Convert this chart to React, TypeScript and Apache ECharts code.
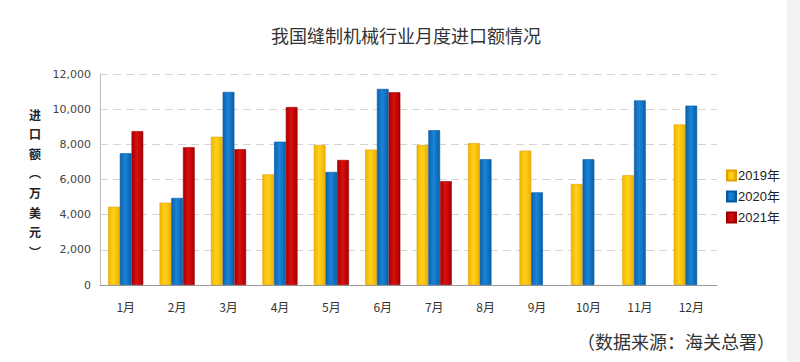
import React, { useEffect, useRef } from "react";
import * as echarts from "echarts";

const months = ["1月", "2月", "3月", "4月", "5月", "6月", "7月", "8月", "9月", "10月", "11月", "12月"];
const seriesNames = ["2019年", "2020年", "2021年"];
const v2019 = [4450, 4680, 8430, 6290, 7960, 7700, 7960, 8070, 7640, 5740, 6240, 9130];
const v2020 = [7490, 4950, 10980, 8150, 6430, 11150, 8800, 7150, 5270, 7150, 10500, 10200];
const v2021 = [8750, 7830, 7720, 10120, 7110, 10960, 5900, null, null, null, null, null];
const yTicks = { min: 0, max: 12000, interval: 2000 };
const titleText = "我国缝制机械行业月度进口额情况";
const yName = ["进", "口", "额", "︵", "万", "美", "元", "︶"];
const sourceText = "（数据来源：海关总署）";

const grad = (c0: string, c1: string, c2: string) =>
  new echarts.graphic.LinearGradient(0, 0, 1, 0, [
    { offset: 0, color: c0 },
    { offset: 0.45, color: c1 },
    { offset: 1, color: c2 },
  ]);

export default function App() {
  const ref = useRef<HTMLDivElement>(null);
  useEffect(() => {
    document.body.style.margin = "0";
    const chart = echarts.init(ref.current!, null, { renderer: "svg" });
    const styles = [
      { color: grad("#F2B400", "#FFD21A", "#F0B000"), borderColor: "#E0A000" },
      { color: grad("#0A62B0", "#1C84D6", "#0660AE"), borderColor: "#0558A0" },
      { color: grad("#A80000", "#DA1010", "#A80000"), borderColor: "#9A0000" },
    ];
    const data = [v2019, v2020, v2021];
    chart.setOption({
      animation: false,
      backgroundColor: "#ffffff",
      title: {
        text: titleText,
        left: 401,
        top: 21,
        textAlign: "center",
        textStyle: { fontFamily: "Noto Sans CJK SC", fontWeight: "normal", fontSize: 18, color: "#333" },
      },
      grid: { left: 100, right: 83, top: 74, bottom: 77 },
      legend: {
        orient: "vertical",
        left: 721,
        top: 164,
        itemWidth: 9,
        itemHeight: 10,
        itemGap: 8,
        icon: "rect",
        textStyle: { fontFamily: "Liberation Sans, Noto Sans CJK SC", fontSize: 13, color: "#222", padding: [0, 0, 0, -3] },
        data: seriesNames,
      },
      xAxis: {
        type: "category",
        data: months,
        axisLine: { lineStyle: { color: "#999" } },
        axisTick: { show: false },
        axisLabel: { fontFamily: "Noto Sans CJK SC", fontSize: 12, color: "#333", margin: 15 },
      },
      yAxis: {
        type: "value",
        min: yTicks.min,
        max: yTicks.max,
        interval: yTicks.interval,
        axisLine: { show: true, lineStyle: { color: "#bbb" } },
        axisTick: { show: false },
        axisLabel: {
          fontFamily: "DejaVu Sans",
          fontSize: 11,
          color: "#444",
          margin: 9,
          formatter: (v: number) => v.toLocaleString("en-US"),
        },
        splitLine: { lineStyle: { color: "#d4d4d4", type: [8, 5] } },
      },
      graphic: [
        {
          type: "rect",
          left: 787,
          top: 0,
          shape: { width: 13, height: 362 },
          style: { fill: "#f3f3f3" },
        },
        ...yName.map((ch, i) => ({
          type: "text",
          x: 35,
          y: 114 + i * 19.6,
          style: {
            text: ch,
            fontFamily: "Noto Sans CJK SC",
            fontWeight: "bold",
            fontSize: 12,
            fill: "#222",
            align: "center",
            verticalAlign: "middle",
          },
        })),
        {
          type: "text",
          right: 25,
          top: 332,
          style: {
            text: sourceText,
            fontFamily: "Noto Sans CJK SC",
            fontSize: 18,
            fill: "#333",
          },
        },
      ],
      series: seriesNames.map((name, i) => ({
        name,
        type: "bar",
        data: data[i],
        barWidth: 11.7,
        barGap: "0%",
        itemStyle: { ...styles[i], borderWidth: 0.6 },
      })),
    });
    return () => chart.dispose();
  }, []);
  return <div ref={ref} style={{ position: "absolute", left: 0, top: 0, width: 800, height: 362 }} />;
}
